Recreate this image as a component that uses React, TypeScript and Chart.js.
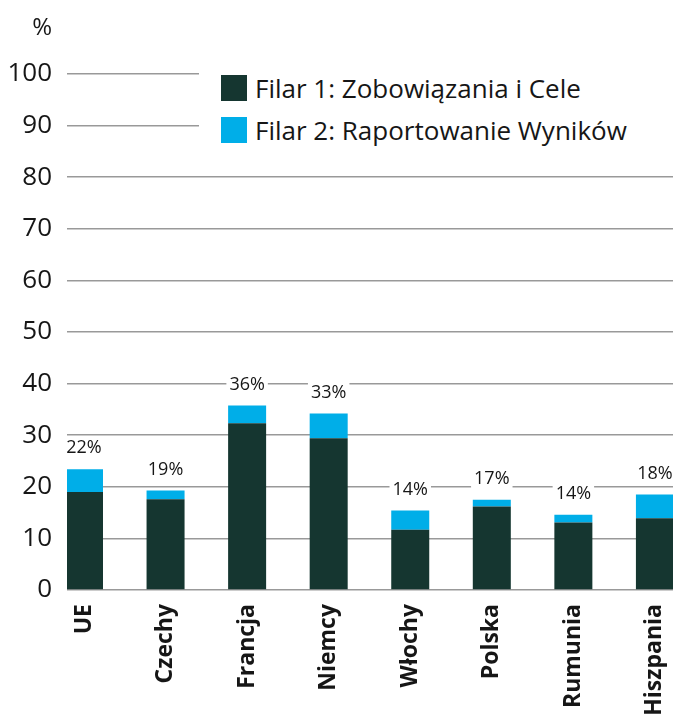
import React, { useEffect, useRef } from "react";
import { Chart, registerables } from "chart.js";

Chart.register(...registerables);

const categories = ["UE", "Czechy", "Francja", "Niemcy", "Włochy", "Polska", "Rumunia", "Hiszpania"];
const pillar1 = [19.0, 17.6, 32.3, 29.4, 11.7, 16.2, 13.1, 13.9];
const pillar2 = [4.4, 1.7, 3.45, 4.8, 3.7, 1.3, 1.5, 4.6];
const totals = [22, 19, 36, 33, 14, 17, 14, 18];
const seriesNames = ["Filar 1: Zobowiązania i Cele", "Filar 2: Raportowanie Wyników"];
const yTicks = [0, 10, 20, 30, 40, 50, 60, 70, 80, 90, 100];

const DARK = "#153630";
const BLUE = "#00AEE8";
const FONT = "'Open Sans', 'Noto Sans', sans-serif";
const TEXT = "#161616";

const totalsPlugin = {
  id: "totalsPlugin",
  afterDatasetsDraw(chart: any) {
    const ctx = chart.ctx;
    const meta = chart.getDatasetMeta(1);
    ctx.save();
    ctx.font = `18px ${FONT}`;
    ctx.textAlign = "center";
    ctx.textBaseline = "middle";
    meta.data.forEach((el: any, i: number) => {
      const label = `${totals[i]}%`;
      const y = el.y - 22;
      const w = ctx.measureText(label).width;
      ctx.fillStyle = "#ffffff";
      ctx.fillRect(el.x - w / 2 - 3, y - 11, w + 6, 22);
      ctx.fillStyle = TEXT;
      ctx.fillText(label, el.x, y + 1);
    });
    const ys = chart.scales.y;
    ctx.font = `24px ${FONT}`;
    ctx.textAlign = "right";
    ctx.fillText("%", ys.right - 15, chart.chartArea.top - 46);
    ctx.restore();
  },
};

export default function App() {
  const ref = useRef<HTMLCanvasElement>(null);

  useEffect(() => {
    if (!ref.current) return;
    const chart = new Chart(ref.current, {
      type: "bar",
      data: {
        datasets: [
          {
            label: seriesNames[0],
            data: pillar1.map((v, i) => ({ x: i, y: v })),
            backgroundColor: DARK,
            barPercentage: 0.466,
            categoryPercentage: 1,
          },
          {
            label: seriesNames[1],
            data: pillar2.map((v, i) => ({ x: i, y: v })),
            backgroundColor: BLUE,
            barPercentage: 0.466,
            categoryPercentage: 1,
          },
        ],
      },
      options: {
        responsive: false,
        animation: false,
        layout: { padding: { top: 74, left: 0, right: 0, bottom: 0 } },
        plugins: { legend: { display: false }, tooltip: { enabled: false } },
        scales: {
          x: {
            type: "linear",
            stacked: true,
            offset: false,
            min: -0.2084,
            max: 7.2216,
            grid: { display: false, drawTicks: false },
            border: { display: false },
            afterBuildTicks: (axis: any) => {
              axis.ticks = categories.map((_, i) => ({ value: i }));
            },
            afterFit: (s: any) => {
              s.height = 126;
              s.paddingLeft = 0;
              s.paddingRight = 0;
            },
            ticks: {
              autoSkip: false,
              minRotation: 90,
              maxRotation: 90,
              padding: 14,
              color: TEXT,
              font: { family: FONT, size: 23, weight: "bold" },
              callback: (v: any) => categories[v] ?? "",
            },
          },
          y: {
            stacked: true,
            min: 0,
            max: 100,
            afterBuildTicks: (axis: any) => {
              axis.ticks = yTicks.map((v) => ({ value: v }));
            },
            afterFit: (s: any) => {
              s.width = 67;
            },
            grid: { color: "#999999", lineWidth: 1.5, drawTicks: false },
            border: { display: false },
            ticks: {
              padding: 15,
              color: TEXT,
              font: { family: FONT, size: 26 },
            },
          },
        },
      },
      plugins: [totalsPlugin],
    } as any);
    return () => chart.destroy();
  }, []);

  const square = (c: string) => ({
    width: 26,
    height: 26,
    background: c,
    flex: "0 0 26px",
    marginRight: 8,
  });

  return (
    <div style={{ position: "fixed", left: 0, top: 0, width: 673, height: 716, background: "#fff", overflow: "hidden" }}>
      <canvas ref={ref} width={673} height={716} style={{ display: "block" }} />
      <div
        style={{
          position: "absolute",
          left: 199,
          top: 60,
          width: 474,
          height: 100,
          background: "#fff",
          fontFamily: FONT,
          fontSize: 26,
          color: TEXT,
        }}
      >
        {seriesNames.map((name, i) => (
          <div
            key={name}
            style={{ position: "absolute", left: 22, top: 15 + i * 42, height: 26, display: "flex", alignItems: "center", whiteSpace: "nowrap" }}
          >
            <div style={square(i === 0 ? DARK : BLUE)} />
            <span style={{ lineHeight: "26px" }}>{name}</span>
          </div>
        ))}
      </div>
    </div>
  );
}
